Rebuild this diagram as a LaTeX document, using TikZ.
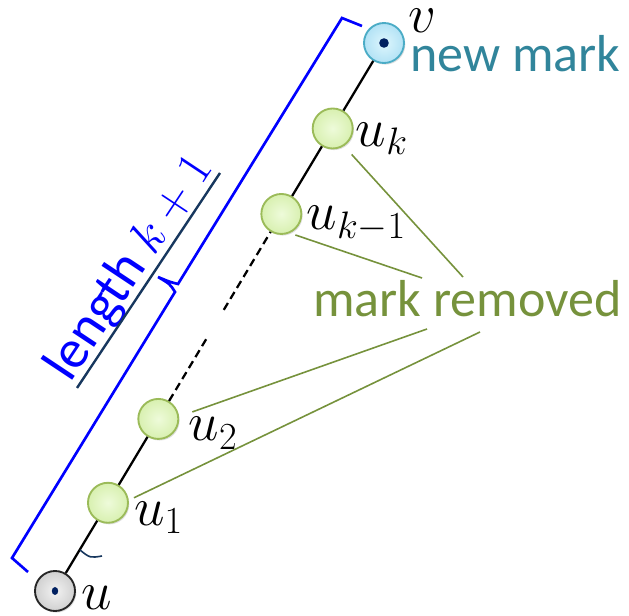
\RequirePackage{fix-cm}
\documentclass[tikz,border=0pt]{standalone}
\usepackage{fontspec}
\newfontfamily\mkfont{Carlito}
\usepackage{tikz}
\usetikzlibrary{calc, positioning, shadows}
\definecolor{mkgreen}{RGB}{118,146,60}
\definecolor{mkteal}{RGB}{49,133,155}
\definecolor{mkolive}{RGB}{155,187,89}
\definecolor{mkleaf}{RGB}{238,251,218}
\definecolor{mkleafdk}{RGB}{216,240,176}
\definecolor{mkaqua}{RGB}{75,172,198}
\definecolor{mksky}{RGB}{222,246,253}
\definecolor{mkskydk}{RGB}{178,226,245}
\definecolor{mkgrey}{RGB}{242,242,242}
\definecolor{mkgreydk}{RGB}{208,208,208}
\definecolor{mknavy}{RGB}{23,55,94}
\definecolor{mkdot}{RGB}{0,32,96}
\definecolor{mkblue}{RGB}{0,0,255}
\tikzset{
  mk path/.style={draw=black, line width=1.7pt},
  mk gap/.style={mk path, dash pattern=on 6pt off 3.6pt},
  mk vertex/.style={circle, minimum size=30pt, inner sep=0pt, line width=1.4pt,
    drop shadow={opacity=0.25, shadow xshift=1pt, shadow yshift=-1.2pt}},
  mk removed/.style={mk vertex, draw=mkolive, inner color=mkleaf, outer color=mkleafdk},
  mk start/.style={mk vertex, draw=black!85, inner color=mkgrey, outer color=mkgreydk,
    path picture={\fill[mkdot] (path picture bounding box.center) ellipse (2.4pt and 3pt);}},
  mk end/.style={mk vertex, draw=mkaqua, inner color=mksky, outer color=mkskydk,
    path picture={\fill[mkdot] (path picture bounding box.center) circle (3.6pt);}},
  mk name/.style={anchor=base west, inner sep=0pt, font=\fontsize{41}{48}\selectfont},
  mk note/.style={anchor=base west, inner sep=0pt, font=\mkfont\fontsize{39}{47}\selectfont},
  mk link/.style={draw=mkgreen, line width=1.2pt},
  mk brace/.style={draw=mkblue, line width=2pt, line join=miter},
  mk under/.style={draw=mknavy, line width=1.8pt},
}

\begin{document}
\begin{tikzpicture}[x=0.75pt, y=-0.75pt]
 \useasboundingbox (0,0) rectangle (629,616);
 \node[mk start] (u) at (55,591) {};
 \node[mk end] (v) at (384,43) {};
 \node[mk removed] (u1) at ($(u)!0.161!(v)$) {};
 \node[mk removed] (u2) at ($(u)!0.314!(v)$) {};
 \node[mk removed] (uk1) at ($(u)!0.688!(v)$) {};
 \node[mk removed] (uk) at ($(u)!0.844!(v)$) {};
 \coordinate (g1) at ($(u)!0.46!(v)$);
 \coordinate (g2) at ($(u)!0.513!(v)$);
 \draw[mk path] (u) -- (u1);
 \draw[mk path] (u1) -- (u2);
 \draw[mk gap] (u2) -- (g1);
 \draw[mk gap] (g2) -- (uk1);
 \draw[mk path] (uk1) -- (uk);
 \draw[mk path] (uk) -- (v);

 \node[mk name] (lv) at ($(v)+(24,-10)$) {$v$};
 \node[mk name] (lk) at ($(uk)+(23,18)$) {$u_k$};
 \node[mk name] (lk1) at ($(uk1)+(25,16)$) {$u_{k-1}$};
 \node[mk name] (l2) at ($(u2)+(30,22)$) {$u_2$};
 \node[mk name] (l1) at ($(u1)+(26,23)$) {$u_1$};
 \node[mk name] (lu) at ($(u)+(26,19)$) {$u$};

 \node[mk note, text=mkteal] (nm) at (410,72) {new mark};
 \node[mk note, text=mkgreen] (rm) at (313,317) {mark removed};
 \coordinate (e1) at ([shift={(150,-40)}]rm.base west);
 \coordinate (e2) at ([shift={(109,-39)}]rm.base west);
 \coordinate (e3) at ([shift={(114,12)}]rm.base west);
 \coordinate (e4) at ([shift={(167,15)}]rm.base west);
 \draw[mk link] ([shift={(-4,8)}]lk.base west) -- (e1);
 \draw[mk link] ([shift={(-11,5)}]lk1.base west) -- (e2);
 \draw[mk link] ([shift={(4,-29)}]l2.base west) -- (e3);
 \draw[mk link] ([shift={(0,-28)}]l1.base west) -- (e4);

 \draw[mk brace] (362,26) -- (342,18) -- (178,284) .. controls (170,282) .. (158,277)
   .. controls (170,284) .. (175,292) -- (12,558) -- (28,572);
 \node[mk note, text=mkblue, rotate=56.4, font=\mkfont\fontsize{41}{48}\selectfont]
   (len) at (70,384) {length \fontsize{37}{44}\selectfont$k+1$};
 \draw[mk under] (77,388) -- (220,173);
 \draw[mk under, line width=1.2pt] (80,550) .. controls (90,558) .. (102,556);
\end{tikzpicture}
\end{document}
